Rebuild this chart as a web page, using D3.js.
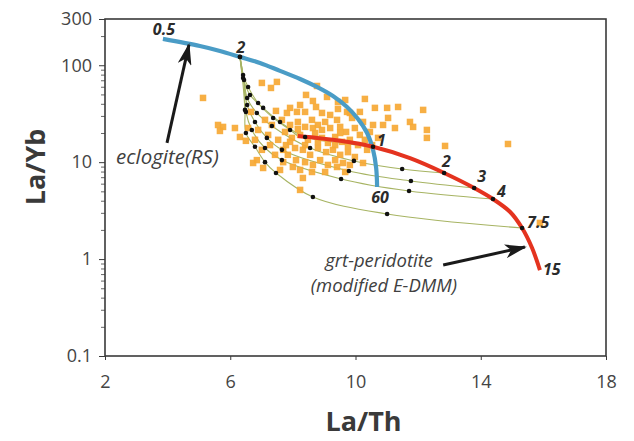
<!DOCTYPE html>
<html>
<head>
<meta charset="utf-8">
<script src="https://cdn.jsdelivr.net/npm/d3@7"></script>
<style>
  body { margin: 0; background: #fff; }
  svg { display: block; }
</style>
</head>
<body>
<svg id="chart" width="634" height="441"></svg>
<script>
// axes: x = La/Th, y = La/Yb (log)
const xTicks = [2, 6, 10, 14, 18];
const yTicks = [0.1, 1, 10, 100, 300];
const yMinor = [0.2,0.3,0.4,0.5,0.6,0.7,0.8,0.9,2,3,4,5,6,7,8,9,20,30,40,50,60,70,80,90,200];

// eclogite (RS) melting curve
const eclogite = [[3.85,187],[5.03,158],[5.67,140.5],[6.31,122],[6.95,105.6],[7.59,87.4],[8.23,72.2],[8.77,59.7],[9.28,48.2],[9.73,37.1],[10.08,27.9],[10.37,20.0],[10.56,13.4],[10.66,8.71],[10.69,5.55]];
const eclogiteLabels = [["0.5", 0], ["2", 3], ["60", 14]];

// grt-peridotite (modified E-DMM) melting curve
const peridotite = [[8.16,18.6],[9.51,16.6],[10.56,14.4],[11.74,11.0],[12.83,7.74],[13.79,5.42],[14.39,4.17],[14.94,3.06],[15.32,2.09],[15.64,1.30],[15.89,0.77]];
const peridotiteLabels = [["1", 2], ["2", 4], ["3", 5], ["4", 6], ["7.5", 8], ["15", 10]];

// mixing lines, third value = 1 where a tick dot sits
const mix1 = [[6.31,121.8,1],[6.41,79.4,1],[6.57,59.7,1],[6.89,40.8,1],[7.37,28.6,1],[7.91,21.5,1],[8.16,18.6,0]];
const mix2 = [[6.31,121.8,0],[6.41,73.9,1],[6.63,49.4,1],[7.05,36.3,1],[7.59,26.0,1],[8.39,18.2,1],[9.51,15.8,0],[10.56,14.4,1]];
const mix3 = [[6.31,121.8,0],[6.44,70.5,1],[6.54,46.0,1],[6.85,32.2,1],[7.33,23.6,1],[8.55,14.0,1],[9.95,10.3,1],[11.49,8.51,1],[12.83,7.74,1]];
const mix4 = [[6.31,121.8,0],[6.44,67.3,0],[6.54,38.9,1],[6.79,26.0,1],[7.17,17.8,1],[7.65,13.4,1],[9.79,8.11,1],[11.77,6.40,1],[13.79,5.42,1]];
const mix5 = [[6.31,121.8,0],[6.44,64.1,0],[6.50,33.0,1],[6.69,21.5,1],[7.11,14.0,1],[7.65,10.5,1],[9.54,6.71,1],[11.71,5.04,1],[14.39,4.17,1]];
const mix6 = [[6.31,121.8,0],[6.41,62.6,0],[6.47,34.6,1],[6.50,20.0,1],[6.79,14.4,1],[7.11,10.0,1],[7.46,7.74,1],[8.64,4.37,1],[11.01,2.92,1],[15.32,2.09,1]];
const mixLines = [mix1, mix2, mix3, mix4, mix5, mix6];

// samples
const samples = [
  [5.13,46],[5.61,24.2],[5.77,23.1],[5.67,21.0],[6.31,18.2],[6.50,16.6],[6.57,22.5],[7.01,65.7],[7.30,58.3],[7.49,67.3],
  [8.77,61.1],[8.64,42.8],[9.44,41.8],[10.30,44.9],[10.62,36.3],[11.01,36.3],[11.36,37.1],[12.16,34.6],[11.74,26.0],[11.84,23.1],
  [12.28,21.5],[12.28,17.8],[12.86,14.7],[14.87,15.4],[15.89,2.36],[8.23,5.17],[6.85,10.5],[7.05,8.71],[6.73,9.81],[10.88,24.2],
  [10.56,24.2],[10.24,26.0],[9.82,32.2],[10.37,13.4],[10.24,9.81],[9.41,8.92],[9.67,7.92],[7.46,33.8],[7.81,32.2],[8.13,33.0],
  [8.39,33.0],[8.93,32.2],[9.44,35.4],[9.73,33.0],[9.89,28.6],[9.41,27.3],[7.59,8.31],[8.00,8.92],[8.32,6.87],[7.27,15.0],
  [7.65,27.3],[7.91,24.2],[8.16,26.0],[8.39,23.1],[8.61,27.3],[8.80,24.2],[9.03,26.0],[9.19,22.5],[9.51,23.1],[9.70,20.5],
  [9.98,22.5],[10.14,19.1],[7.75,20.5],[7.97,17.8],[8.23,19.1],[8.48,17.0],[8.71,20.0],[8.93,17.8],[9.12,15.8],[9.35,18.2],
  [9.57,16.2],[9.82,17.0],[10.08,15.0],[10.30,17.0],[7.53,17.0],[7.78,15.0],[8.07,14.0],[8.32,13.4],[8.55,11.9],[8.80,14.0],
  [9.06,12.7],[9.28,13.4],[9.51,11.9],[9.76,12.7],[9.98,11.3],[7.84,11.9],[8.10,10.5],[8.39,10.0],[8.64,9.36],[8.87,10.5],
  [9.12,9.36],[9.35,10.5],[9.60,9.81],[9.82,9.36],[7.69,10.0],[8.23,8.31],[8.61,7.92],[9.03,7.92],[7.33,24.2],[7.21,19.1],
  [7.01,13.4],[7.43,11.9],[7.11,27.3],[6.89,21.5],[10.46,20.5],[10.72,17.8],[10.53,15.0],[10.14,33.0],[9.19,30.7],[8.74,37.1],
  [8.23,38.9],[7.91,36.3],[6.66,33.0],[6.79,17.0],[6.15,22.5],[11.04,28.6],[11.26,22.5],[8.42,49.4],[9.09,47.1],[9.67,43.8],
  [7.91,16.2],[8.80,16.2],[9.35,15.0],[8.39,15.0],[7.69,13.4],[9.76,14.7],[8.64,22.5],[8.16,22.0],[8.93,21.5],[9.51,20.0]
];

// annotation arrows: [from, to] in data units
const eclogiteArrow = [[3.98,15.8],[4.68,162]];
const peridotiteArrow = [[12.80,0.87],[15.41,1.33]];

const svg = d3.select("#chart");
const W = 634, H = 441;
const margin = { top: 19, right: 28, bottom: 85, left: 105 };

svg.append("rect").attr("width", W).attr("height", H).attr("fill", "#fff");

const x = d3.scaleLinear().domain([2, 18]).range([margin.left, W - margin.right]);
const y = d3.scaleLog().domain([0.1, 300]).range([H - margin.bottom, margin.top]);

const font = "'Open Sans', 'DejaVu Sans', sans-serif";
const axisColor = "#3a3a3a";

// y minor ticks
svg.append("g")
    .attr("transform", `translate(${margin.left},0)`)
    .call(d3.axisLeft(y).tickValues(yMinor).tickSize(4).tickFormat(""))
    .call(g => g.select(".domain").remove())
    .call(g => g.selectAll("line").attr("stroke", "#666"));

// y major ticks + labels
svg.append("g")
    .attr("transform", `translate(${margin.left},0)`)
    .call(d3.axisLeft(y).tickValues(yTicks).tickSize(6).tickPadding(7).tickFormat(d3.format("")))
    .call(g => g.select(".domain").remove())
    .call(g => g.selectAll("line").attr("stroke", axisColor))
    .call(g => g.selectAll("text")
        .attr("font-family", font)
        .attr("font-size", 18)
        .attr("fill", "#444"));

// x ticks + labels
svg.append("g")
    .attr("transform", `translate(0,${H - margin.bottom})`)
    .call(d3.axisBottom(x).tickValues(xTicks).tickSize(4).tickPadding(15))
    .call(g => g.select(".domain").remove())
    .call(g => g.selectAll("line").attr("stroke", axisColor))
    .call(g => g.selectAll("text")
        .attr("font-family", font)
        .attr("font-size", 18)
        .attr("fill", "#444"));

// frame
svg.append("rect")
    .attr("x", x(2)).attr("y", y(300))
    .attr("width", x(18) - x(2)).attr("height", y(0.1) - y(300))
    .attr("fill", "none")
    .attr("stroke", axisColor)
    .attr("stroke-width", 1.6);

// axis titles
svg.append("text")
    .attr("x", (x(2) + x(18)) / 2 + 8).attr("y", 431)
    .attr("text-anchor", "middle")
    .attr("font-family", font).attr("font-weight", 700).attr("font-size", 27)
    .attr("fill", "#3a3a3a")
    .text("La/Th");

svg.append("text")
    .attr("transform", "translate(45,167) rotate(-90)")
    .attr("text-anchor", "middle")
    .attr("font-family", font).attr("font-weight", 700).attr("font-size", 27)
    .attr("fill", "#3a3a3a")
    .text("La/Yb");

const line = d3.line()
    .x(d => x(d[0]))
    .y(d => y(d[1]))
    .curve(d3.curveCatmullRom.alpha(0.5));

// mixing lines
svg.append("g").selectAll("path")
    .data(mixLines)
    .join("path")
    .attr("d", line)
    .attr("fill", "none")
    .attr("stroke", "#a7b463")
    .attr("stroke-width", 1.1);

// samples
const sq = 6.5;
svg.append("g").selectAll("rect")
    .data(samples)
    .join("rect")
    .attr("x", d => x(d[0]) - sq / 2)
    .attr("y", d => y(d[1]) - sq / 2)
    .attr("width", sq)
    .attr("height", sq)
    .attr("fill", "#f6a834")
    .attr("opacity", 0.92);

// melting curves
svg.append("path")
    .datum(eclogite)
    .attr("d", line)
    .attr("fill", "none")
    .attr("stroke", "#4a9cc6")
    .attr("stroke-width", 4.2);

svg.append("path")
    .datum(peridotite)
    .attr("d", line)
    .attr("fill", "none")
    .attr("stroke", "#e4331f")
    .attr("stroke-width", 4);

// tick dots on the mixing lines
const dots = mixLines.flatMap(l => l.filter(p => p[2] === 1));
dots.push(eclogite[3]);
svg.append("g").selectAll("circle")
    .data(dots)
    .join("circle")
    .attr("cx", d => x(d[0]))
    .attr("cy", d => y(d[1]))
    .attr("r", 2.3)
    .attr("fill", "#111");

// curve labels
const labelOffset = {
    e0: [1, -4, "middle"], e3: [1, -4, "middle"], e14: [3, 16, "middle"],
    p2: [4, -1, "start"], p4: [-2, -6, "start"], p5: [3, -6, "start"],
    p6: [4, -2, "start"], p8: [5, 0, "start"], p10: [3, 5, "start"]
};
const curveLabels = eclogiteLabels.map(([t, i]) => ({ t, p: eclogite[i], o: labelOffset["e" + i] }))
    .concat(peridotiteLabels.map(([t, i]) => ({ t, p: peridotite[i], o: labelOffset["p" + i] })));

svg.append("g").selectAll("text")
    .data(curveLabels)
    .join("text")
    .attr("x", d => x(d.p[0]) + d.o[0])
    .attr("y", d => y(d.p[1]) + d.o[1])
    .attr("text-anchor", d => d.o[2])
    .attr("font-family", font)
    .attr("font-weight", 700)
    .attr("font-style", "italic")
    .attr("font-size", 16)
    .attr("fill", "#2b2b2b")
    .text(d => d.t);

// arrows
svg.append("defs").append("marker")
    .attr("id", "head")
    .attr("markerUnits", "userSpaceOnUse")
    .attr("viewBox", "0 0 22 14")
    .attr("markerWidth", 22).attr("markerHeight", 14)
    .attr("refX", 20).attr("refY", 7)
    .attr("orient", "auto")
    .append("path")
    .attr("d", "M0,0 L22,7 L0,14 L6,7 Z")
    .attr("fill", "#1a1a1a");

[eclogiteArrow, peridotiteArrow].forEach(a => {
    svg.append("line")
        .attr("x1", x(a[0][0])).attr("y1", y(a[0][1]))
        .attr("x2", x(a[1][0])).attr("y2", y(a[1][1]))
        .attr("stroke", "#1a1a1a")
        .attr("stroke-width", 3)
        .attr("marker-end", "url(#head)");
});

// annotation text
svg.append("text")
    .attr("x", 116).attr("y", 164)
    .attr("font-family", font).attr("font-style", "italic").attr("font-size", 20.5)
    .attr("fill", "#404040")
    .text("eclogite(RS)");

svg.append("text")
    .attr("x", 433).attr("y", 267)
    .attr("text-anchor", "end")
    .attr("font-family", font).attr("font-style", "italic").attr("font-size", 18.5)
    .attr("fill", "#404040")
    .text("grt-peridotite");

svg.append("text")
    .attr("x", 457).attr("y", 292)
    .attr("text-anchor", "end")
    .attr("font-family", font).attr("font-style", "italic").attr("font-size", 18.5)
    .attr("fill", "#404040")
    .text("(modified E-DMM)");
</script>
</body>
</html>
